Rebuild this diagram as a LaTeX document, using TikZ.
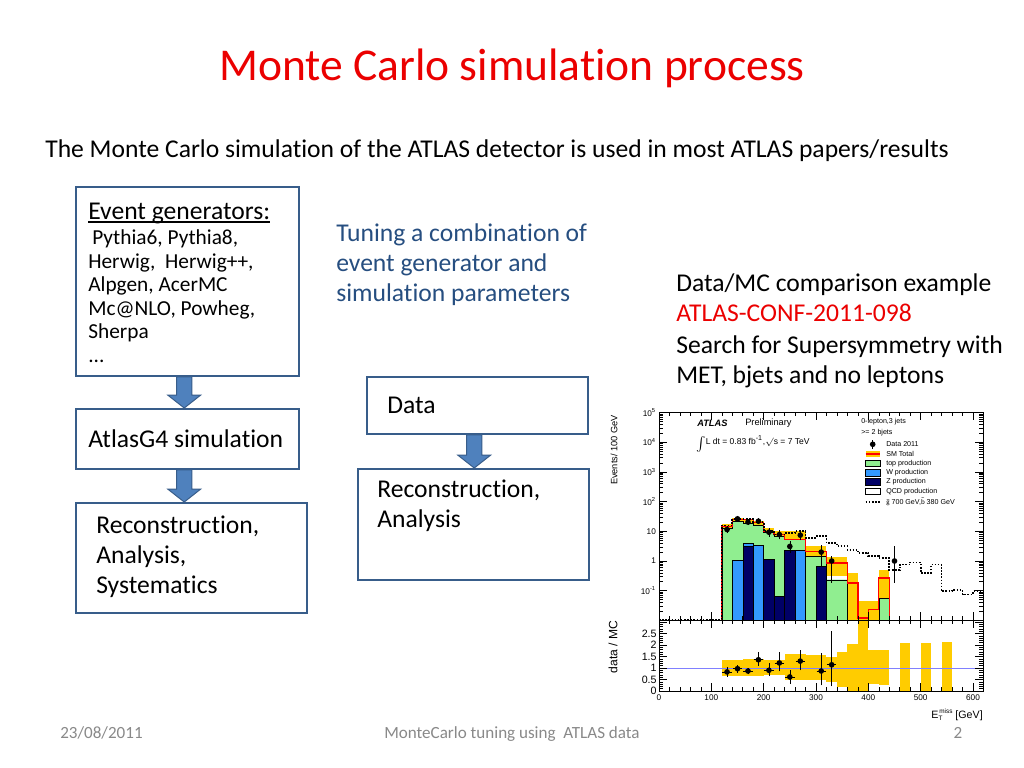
\documentclass[tikz,border=0pt]{standalone}
\usepackage{fontspec}
\setmainfont{Carlito}[Ligatures={NoCommon}]
\newfontfamily\plotfont{Liberation Sans}
\usetikzlibrary{calc,fit}
\definecolor{titlered}{RGB}{235,0,0}
\definecolor{boxblue}{RGB}{56,93,138}
\definecolor{arrowblue}{RGB}{79,129,189}
\definecolor{tunblue}{RGB}{38,78,128}
\definecolor{footgray}{RGB}{137,137,137}
\definecolor{pgreen}{RGB}{144,238,144}
\definecolor{pwblue}{RGB}{51,153,255}
\definecolor{pnavy}{RGB}{0,0,102}
\definecolor{pyellow}{RGB}{255,204,0}
\definecolor{pred}{RGB}{255,0,0}
\definecolor{plineblue}{RGB}{128,128,255}
\tikzset{
 boxst/.style={draw=boxblue, line width=1.4pt, fill=white, inner sep=0pt},
 arrst/.style={fill=arrowblue, draw=boxblue, line width=0.7pt},
 txt/.style={anchor=base west, inner sep=0pt, font=\fontsize{18}{22}\selectfont},
 lsttxt/.style={anchor=base west, inner sep=0pt, font=\fontsize{15}{18}\selectfont},
 foot/.style={anchor=base, inner sep=0pt, text=footgray, font=\fontsize{12}{14}\selectfont},
 pl/.style={inner sep=0pt, font=\plotfont\fontsize{5}{6}\selectfont},
 ptick/.style={inner sep=0pt, font=\plotfont\fontsize{5.8}{6}\selectfont},
 rtick/.style={inner sep=0pt, font=\plotfont\fontsize{7.5}{8}\selectfont},
 axl/.style={line width=0.4pt},
 hbar/.style={draw=black, line width=0.3pt},
 smline/.style={draw=pred, line width=0.9pt},
 sigline/.style={draw=black, line width=1.2pt, dash pattern=on 1.1pt off 1.1pt},
 errb/.style={draw=black, line width=0.45pt},
}
\newcommand\blkarr[2]{%
 \path[arrst] let \p1=(#1.south), \p2=(#2.north) in
  (\x1-7.6pt,\y1) -- (\x1+3pt,\y1) -- (\x1+3pt,\y2+9.1pt) -- (\x1+9.3pt,\y2+9.1pt)
  -- (\x1-2.3pt,\y2) -- (\x1-13.9pt,\y2+9.1pt) -- (\x1-7.6pt,\y2+9.1pt) -- cycle;}
\begin{document}
\begin{tikzpicture}[x=0.703125pt, y=-0.703125pt]
\path[use as bounding box, fill=white] (0,0) rectangle (1024,768);

% title and subtitle
\node[anchor=base, inner sep=0pt, text=titlered, font=\fontsize{32}{38}\selectfont] (title) at (512,81) {Monte Carlo simulation process};
\node[txt] (sub) at (45,158) {The Monte Carlo simulation of the ATLAS detector is used in most ATLAS papers/results};

% left chain
\node[boxst, fit={(76,187) (299,376)}] (b1) {};
\node[boxst, fit={(76,409) (299,469)}] (b2) {};
\node[boxst, fit={(76,503) (307,613)}] (b3) {};
\blkarr{b1}{b2}
\blkarr{b2}{b3}
\node[txt] (e0) at (88,220) {Event generators:};
\draw[line width=0.8pt] ([yshift=-1.4pt]e0.base west) -- ([yshift=-1.4pt]e0.base east);
\node[lsttxt] (e1) at (92,245) {Pythia6, Pythia8,};
\node[lsttxt] (e2) at (88,268.4) {Herwig,\ \ Herwig++,};
\node[lsttxt] (e3) at (88,291.8) {Alpgen, AcerMC};
\node[lsttxt] (e4) at (88,315.2) {Mc@NLO, Powheg,};
\node[lsttxt] (e5) at (88,338.6) {Sherpa};
\node[lsttxt] (e6) at (88,362) {...};
\node[txt] (g4) at (88,447) {AtlasG4 simulation};
\node[txt] (r1) at (96,533) {Reconstruction,};
\node[txt] (r2) at (96,563) {Analysis,};
\node[txt] (r3) at (96,593) {Systematics};

% middle
\node[txt, text=tunblue] (tu1) at (336,242) {Tuning a combination of};
\node[txt, text=tunblue] (tu2) at (336,272) {event generator and};
\node[txt, text=tunblue] (tu3) at (336,302) {simulation parameters};
\node[boxst, fit={(367,377) (588,434)}] (b4) {};
\node[boxst, fit={(358,469) (589,580)}] (b5) {};
\blkarr{b4}{b5}
\node[txt] (d1) at (387,413) {Data};
\node[txt] (d2) at (377,497) {Reconstruction,};
\node[txt] (d3) at (377,527) {Analysis};

% right text
\node[txt] (c1) at (676,292) {Data/MC comparison example};
\node[txt, text=titlered] (c2) at (676,322) {ATLAS-CONF-2011-098};
\node[txt] (c3) at (676,353) {Search for Supersymmetry with};
\node[txt] (c4) at (676,383) {MET, bjets and no leptons};

% footer
\node[foot, anchor=base west] (f1) at (60,738) {23/08/2011};
\node[foot] (f2) at (512,738) {MonteCarlo tuning using\ \ ATLAS data};
\node[foot] (f3) at (958,738) {2};

% ===== main pane =====
\begin{scope}[shift={(659,561)}, x=0.36795pt, y=20.8828pt]
 \fill[pyellow] (120,1.0) rectangle (140,1.26);
 \fill[pyellow] (140,1.3) rectangle (160,1.45);
 \fill[pyellow] (160,1.25) rectangle (180,1.43);
 \fill[pyellow] (180,1.2) rectangle (200,1.36);
 \fill[pyellow] (200,0.9) rectangle (220,1.1);
 \fill[pyellow] (220,0.75) rectangle (240,1.0);
 \fill[pyellow] (240,0.5) rectangle (280,1.0);
 \fill[pyellow] (280,0.0) rectangle (320,0.5);
 \fill[pyellow] (320,-0.5) rectangle (360,0.12);
 \fill[pyellow] (360,-2) rectangle (380,-0.4);
 \fill[pyellow] (380,-2) rectangle (420,-1.36);
 \fill[pyellow] (420,-2) rectangle (440,-0.3);
 \fill[pgreen] (120,-2) -- (120,1.11) -- (140,1.11) -- (140,1.33) -- (160,1.33) -- (160,1.28) -- (180,1.28) -- (180,1.22) -- (200,1.22) -- (200,0.98) -- (220,0.98) -- (220,0.85) -- (240,0.85) -- (240,0.72) -- (280,0.72) -- (280,0.16) -- (320,0.16) -- (320,-0.63) -- (360,-0.63) -- (360,-2) -- cycle;
 \fill[pgreen] (420,-2) rectangle (440,-1.25);
 \draw[hbar] (120,-2) -- (120,1.11) -- (140,1.11) -- (140,1.33) -- (160,1.33) -- (160,1.28) -- (180,1.28) -- (180,1.22) -- (200,1.22) -- (200,0.98) -- (220,0.98) -- (220,0.85) -- (240,0.85) -- (240,0.72) -- (280,0.72) -- (280,0.16) -- (320,0.16) -- (320,-0.63) -- (360,-0.63) -- (360,-2);
 \draw[hbar] (420,-2) -- (420,-1.25) -- (440,-1.25) -- (440,-2);
 \filldraw[hbar, fill=pwblue] (140,-2) rectangle (160,0.02);
 \filldraw[hbar, fill=pwblue] (160,-2) rectangle (180,0.6);
 \filldraw[hbar, fill=pwblue] (180,-2) rectangle (200,0.53);
 \filldraw[hbar, fill=pwblue] (260,-2) rectangle (280,0.38);
 \filldraw[hbar, fill=pnavy] (160,-2) rectangle (180,0.5);
 \filldraw[hbar, fill=pnavy] (200,-2) rectangle (220,0.07);
 \filldraw[hbar, fill=pnavy] (220,-2) rectangle (240,-1.2);
 \filldraw[hbar, fill=pnavy] (240,-2) rectangle (260,0.36);
 \filldraw[hbar, fill=pnavy] (300,-2) rectangle (320,-0.18);
 \draw[smline] (120,-2) -- (120,1.17) -- (140,1.17) -- (140,1.39) -- (180,1.39) -- (180,1.30) -- (200,1.30) -- (200,1.0) -- (220,1.0) -- (220,0.89) -- (240,0.89) -- (240,0.72) -- (280,0.72) -- (280,0.33) -- (320,0.33) -- (320,-0.07) -- (360,-0.07) -- (360,-0.74) -- (380,-0.74) -- (380,-1.92) -- (400,-1.92) -- (400,-1.64) -- (420,-1.64) -- (420,-0.57) -- (440,-0.57) -- (440,-2);
 \draw[sigline] (0,-1.97) -- (120,-1.97) -- (120,1.2) -- (140,1.2) -- (140,1.42) -- (180,1.42) -- (180,1.32) -- (200,1.32) -- (200,1.0) -- (220,1.0) -- (220,0.89) -- (240,0.89) -- (240,0.94) -- (260,0.94) -- (260,1.0) -- (280,1.0) -- (280,0.78) -- (300,0.78) -- (300,0.83) -- (320,0.83) -- (320,0.6) -- (340,0.6) -- (340,0.5) -- (360,0.5) -- (360,0.38) -- (380,0.38) -- (380,0.27) -- (400,0.27) -- (400,0.16) -- (420,0.16) -- (420,0.1) -- (440,0.1) -- (440,-0.3) -- (460,-0.3) -- (460,-0.12) -- (480,-0.12) -- (480,-0.05) -- (500,-0.05) -- (500,-0.4) -- (520,-0.4) -- (520,-0.12) -- (540,-0.12) -- (540,-1.02) -- (560,-1.02) -- (560,-0.97) -- (580,-0.97) -- (580,-1.13) -- (600,-1.13) -- (600,-1.02) -- (618,-1.02);
 \foreach \g/\v/\lo/\hi in {130/1.06/0.94/1.18, 150/1.42/1.33/1.51, 170/1.31/1.21/1.41, 190/1.34/1.24/1.44, 210/0.97/0.82/1.12, 230/0.89/0.73/1.05, 250/0.49/0.27/0.66, 270/0.87/0.7/1.0, 310/0.3/-0.2/0.55, 330/0.0/-0.74/0.16, 450/0.0/-0.74/0.5} {
  \draw[errb] (\g,\lo) -- (\g,\hi);
  \fill[black] (\g,\v) circle (2pt);
 }
 \draw[axl] (0,-2) rectangle (620,5);
 \foreach \d in {-2,...,4} {
  \draw[axl] (0,\d) -- ++(5.6pt,0pt);
  \draw[axl] (620,\d) -- ++(-5.6pt,0pt);
  \foreach \m in {0.301,0.477,0.602,0.699,0.778,0.845,0.903,0.954} {
   \draw[axl] (0,\d+\m) -- ++(2.8pt,0pt);
   \draw[axl] (620,\d+\m) -- ++(-2.8pt,0pt);
  }
 }
 \foreach \g in {0,20,...,600} {
  \draw[axl] (\g,5) -- ++(0pt,-2.8pt);
  \draw[axl] (\g,-2) -- ++(0pt,2.8pt);
 }
 \foreach \g in {0,100,...,600} {
  \draw[axl] (\g,5) -- ++(0pt,-5.6pt);
  \draw[axl] (\g,-2) -- ++(0pt,5.6pt);
 }
 \node[ptick, anchor=east] (ly5) at ([xshift=-2pt]0,5) {10\textsuperscript{5}};
 \node[ptick, anchor=east] (ly4) at ([xshift=-2pt]0,4) {10\textsuperscript{4}};
 \node[ptick, anchor=east] (ly3) at ([xshift=-2pt]0,3) {10\textsuperscript{3}};
 \node[ptick, anchor=east] (ly2) at ([xshift=-2pt]0,2) {10\textsuperscript{2}};
 \node[ptick, anchor=east] (ly1) at ([xshift=-2pt]0,1) {10};
 \node[ptick, anchor=east] (ly0) at ([xshift=-2pt]0,0) {1};
 \node[ptick, anchor=east] (lym) at ([xshift=-2pt]0,-1) {10\textsuperscript{-1}};
\end{scope}
\node[pl, rotate=90, font=\plotfont\fontsize{6.5}{7}\selectfont] (ylab) at (614,450) {Events/ 100 GeV};

% labels inside plot
\node[pl, anchor=west, font=\plotfont\bfseries\itshape\fontsize{6.5}{7}\selectfont] (atl) at (697,423) {ATLAS};
\node[pl, anchor=west, font=\plotfont\fontsize{6.5}{7}\selectfont] (prel) at (745,423) {Preliminary};
\node[pl, anchor=west, font=\plotfont\fontsize{6}{7}\selectfont] (lumi) at (696,444) {\raisebox{-2.2pt}{\fontsize{8}{8}\selectfont$\int$}L dt = 0.83 fb\textsuperscript{-1},$\surd$s = 7 TeV};
\node[pl, anchor=west] (lg0) at (861,422) {0-lepton,3 jets};
\node[pl, anchor=west] (lg1) at (861,433) {>= 2 bjets};
\draw[errb] (872.7,440) -- (872.7,448.6);
\fill[black] (872.7,444.3) circle (2pt);
\fill[pyellow] (865.7,450.7) rectangle (880,457.3);
\draw[smline] (865.7,454) -- (880,454);
\filldraw[hbar, fill=pgreen] (865.7,460) rectangle (880,466.7);
\filldraw[hbar, fill=pwblue] (865.7,469.3) rectangle (880,476);
\filldraw[hbar, fill=pnavy] (865.7,478.7) rectangle (880,485.3);
\filldraw[hbar, fill=white] (865.7,488) rectangle (880,494.7);
\draw[sigline] (865.7,501.7) -- (880,501.7);
\node[pl, anchor=west] (lg2) at (886,444) {Data 2011};
\node[pl, anchor=west] (lg3) at (886,454) {SM Total};
\node[pl, anchor=west] (lg4) at (886,463.3) {top production};
\node[pl, anchor=west] (lg5) at (886,472.6) {W production};
\node[pl, anchor=west] (lg6) at (886,482) {Z production};
\node[pl, anchor=west] (lg7) at (886,491.3) {QCD production};
\node[pl, anchor=west] (lg8) at (886,501.7) {$\tilde{\mathrm{g}}$ 700 GeV,$\tilde{\mathrm{b}}$ 380 GeV};

% ===== ratio pane =====
\begin{scope}[shift={(659,691)}, x=0.36795pt, y=16.172pt]
 \fill[pyellow] (120,0.64) rectangle (160,1.33);
 \fill[pyellow] (160,0.66) rectangle (200,1.38);
 \fill[pyellow] (200,0.68) rectangle (240,1.35);
 \fill[pyellow] (240,0.46) rectangle (280,1.62);
 \fill[pyellow] (280,0.46) rectangle (320,1.55);
 \fill[pyellow] (320,0.4) rectangle (340,1.48);
 \fill[pyellow] (340,0.17) rectangle (360,1.7);
 \fill[pyellow] (360,0) rectangle (380,2.06);
 \fill[pyellow] (380,0) rectangle (400,3.087);
 \fill[pyellow] (400,0.32) rectangle (420,1.77);
 \fill[pyellow] (420,0.25) rectangle (440,1.77);
 \fill[pyellow] (460,0) rectangle (480,2.09);
 \fill[pyellow] (500,0) rectangle (520,2.09);
 \fill[pyellow] (540,0) rectangle (560,2.13);
 \draw[plineblue, line width=0.5pt] (0,1) -- (620,1);
 \foreach \g/\v/\lo/\hi in {130/0.83/0.63/1.03, 150/0.97/0.8/1.15, 170/0.87/0.72/1.02, 190/1.36/1.1/1.7, 210/0.9/0.65/1.2, 230/1.22/0.85/1.7, 250/0.61/0.3/0.9, 270/1.3/0.9/1.8, 310/0.87/0.25/1.65, 330/1.14/0.2/2.6} {
  \draw[errb] (\g,\lo) -- (\g,\hi);
  \draw[errb] (\g-9,\v) -- (\g+9,\v);
  \fill[black] (\g,\v) circle (2pt);
 }
 \draw[axl] (0,0) rectangle (620,3.087);
 \foreach \r in {0,0.1,...,3.05} {
  \draw[axl] (0,\r) -- ++(2.8pt,0pt);
  \draw[axl] (620,\r) -- ++(-2.8pt,0pt);
 }
 \foreach \r in {0,0.5,...,3} {
  \draw[axl] (0,\r) -- ++(5.6pt,0pt);
  \draw[axl] (620,\r) -- ++(-5.6pt,0pt);
 }
 \foreach \g in {0,20,...,600} {
  \draw[axl] (\g,0) -- ++(0pt,2.8pt);
  \draw[axl] (\g,3.087) -- ++(0pt,-2.8pt);
 }
 \foreach \g in {0,100,...,600} {
  \draw[axl] (\g,0) -- ++(0pt,5.6pt);
  \draw[axl] (\g,3.087) -- ++(0pt,-5.6pt);
  \node[ptick, anchor=north] (lx\g) at ([yshift=-2.5pt]\g,0) {\g};
 }
 \foreach \r [count=\i] in {0,0.5,1,1.5,2,2.5} {
  \node[rtick, anchor=east] (lr\i) at ([xshift=-1.5pt]0,\r) {\r};
 }
\end{scope}
\node[pl, rotate=90, font=\plotfont\fontsize{8.5}{9}\selectfont] (rlab) at (613,647) {data / MC};
\node[pl, anchor=east, font=\plotfont\fontsize{7.5}{8}\selectfont] (xlab) at (983,715) {E\raisebox{-1.6pt}{\fontsize{4.5}{5}\selectfont T}\hspace{-2.2pt}\raisebox{3.2pt}{\fontsize{4.5}{5}\selectfont miss} [GeV]};
\end{tikzpicture}
\end{document}
